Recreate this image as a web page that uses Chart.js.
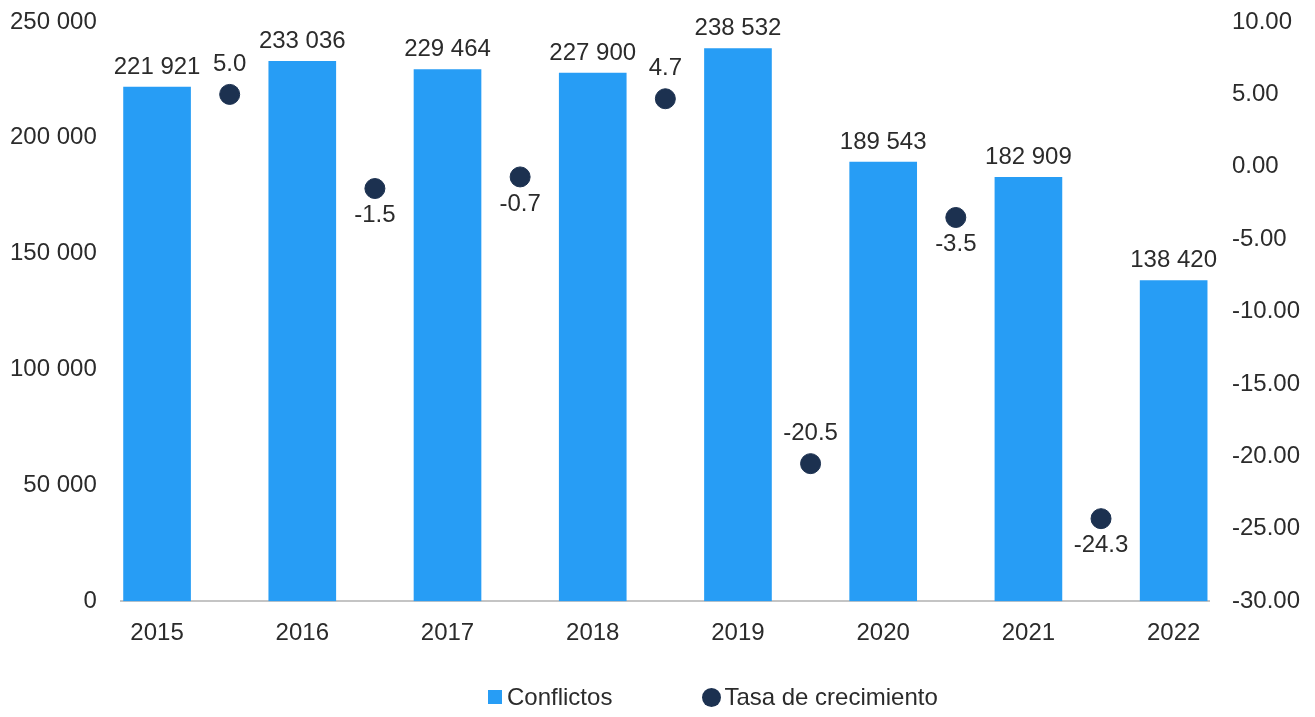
<!DOCTYPE html>
<html>
<head>
<meta charset="utf-8">
<script src="https://cdn.jsdelivr.net/npm/chart.js@4/dist/chart.umd.min.js"></script>
<style>
  html, body { margin: 0; padding: 0; background: #fff; }
  #wrap { position: relative; width: 1315px; height: 717px; }
  #legend {
    position: absolute; left: 488px; top: 683px;
    display: flex; align-items: center;
    font: 24px 'Liberation Sans', Arial, sans-serif; color: #2b2b2b;
  }
  .item { display: flex; align-items: center; }
  .item + .item { margin-left: 90px; }
  .sq { width: 14px; height: 14px; background: #279df5; margin-right: 5px; }
  .dot { width: 19px; height: 19px; border-radius: 50%; background: #1c3150; margin-right: 3px; }
</style>
</head>
<body>
<div id="wrap">
  <canvas id="chartCanvas" width="1315" height="717"></canvas>
  <div id="legend">
    <div class="item"><span class="sq"></span><span>Conflictos</span></div>
    <div class="item"><span class="dot"></span><span>Tasa de crecimiento</span></div>
  </div>
</div>
<script>
"use strict";

const years = [2015, 2016, 2017, 2018, 2019, 2020, 2021, 2022];
const conflictos = [221921, 233036, 229464, 227900, 238532, 189543, 182909, 138420];
// growth from one year to the next, drawn between the two bars
const tasaCrecimiento = [5.0, -1.5, -0.7, 4.7, -20.5, -3.5, -24.3];
const tasaLabelSide = ["top", "bottom", "bottom", "top", "top", "bottom", "bottom"];

const FONT = "'Liberation Sans', Arial, sans-serif";
const TEXT = "#2b2b2b";
const BAR_COLOR = "#279df5";
const DOT_COLOR = "#1c3150";

function formatMiles(v) {
  return String(v).replace(/\B(?=(\d{3})+(?!\d))/g, " ");
}

// tick padding would otherwise push the plot top down
function noVerticalPadding(scale) {
  scale.paddingTop = 0;
  scale.paddingBottom = 0;
}

const valueLabels = {
  id: "valueLabels",
  afterDatasetsDraw(chart) {
    const ctx = chart.ctx;
    ctx.save();
    ctx.font = "24px " + FONT;
    ctx.fillStyle = TEXT;
    ctx.textAlign = "center";
    ctx.textBaseline = "middle";
    chart.getDatasetMeta(0).data.forEach((bar, i) => {
      ctx.fillText(formatMiles(conflictos[i]), bar.x, bar.y - 20);
    });
    chart.getDatasetMeta(1).data.forEach((pt, i) => {
      const dy = tasaLabelSide[i] === "top" ? -30 : 27;
      ctx.fillText(tasaCrecimiento[i].toFixed(1), pt.x, pt.y + dy);
    });
    ctx.restore();
  },
};

const ctx = document.getElementById("chartCanvas").getContext("2d");

new Chart(ctx, {
  type: "bar",
  data: {
    datasets: [
      {
        type: "bar",
        label: "Conflictos",
        data: years.map((y, i) => ({ x: y, y: conflictos[i] })),
        backgroundColor: BAR_COLOR,
        barThickness: 67,
        yAxisID: "y",
        order: 2,
      },
      {
        type: "scatter",
        label: "Tasa de crecimiento",
        data: tasaCrecimiento.map((v, i) => ({ x: years[i] + 0.5, y: v })),
        backgroundColor: DOT_COLOR,
        borderColor: DOT_COLOR,
        pointRadius: 10,
        pointHoverRadius: 10,
        yAxisID: "y1",
        order: 1,
      },
    ],
  },
  options: {
    responsive: false,
    animation: false,
    layout: { padding: { left: -14, right: -7, top: 22, bottom: 51 } },
    plugins: {
      tooltip: { enabled: false },
      legend: { display: false },
    },
    scales: {
      x: {
        type: "linear",
        offset: false,
        min: 2014.75,
        max: 2022.25,
        grid: { display: false, drawTicks: false },
        border: { display: true, color: "#c4c4c4", width: 2 },
        afterBuildTicks: (axis) => {
          axis.ticks = years.map((y) => ({ value: y }));
        },
        ticks: {
          color: TEXT,
          font: { family: FONT, size: 24 },
          padding: 18,
          callback: (v) => String(v),
        },
      },
      y: {
        position: "left",
        min: 0,
        max: 250000,
        grid: { display: false, drawTicks: false },
        border: { display: false },
        afterFit: noVerticalPadding,
        ticks: {
          stepSize: 50000,
          color: TEXT,
          font: { family: FONT, size: 24 },
          padding: 24,
          callback: (v) => formatMiles(v),
        },
      },
      y1: {
        position: "right",
        min: -30,
        max: 10,
        grid: { display: false, drawTicks: false },
        border: { display: false },
        afterFit: noVerticalPadding,
        ticks: {
          stepSize: 5,
          color: TEXT,
          font: { family: FONT, size: 24 },
          padding: 22,
          callback: (v) => v.toFixed(2),
        },
      },
    },
  },
  plugins: [valueLabels],
});
</script>
</body>
</html>
